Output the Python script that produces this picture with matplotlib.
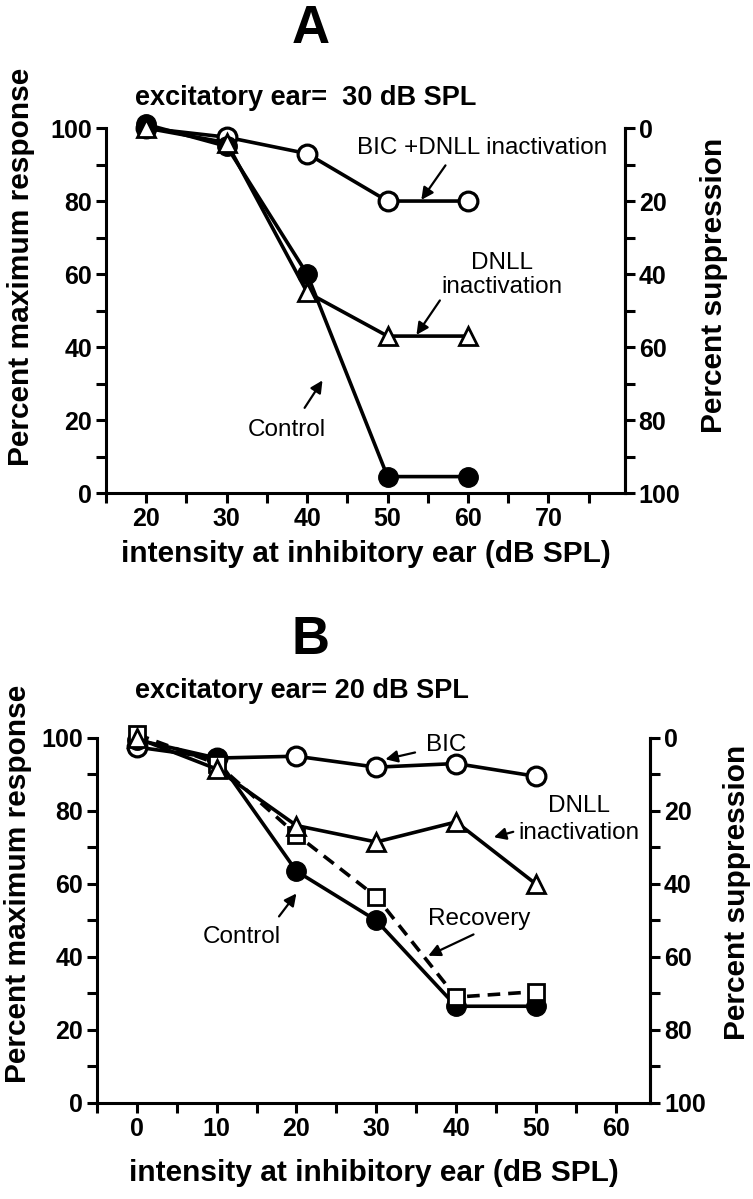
import matplotlib
matplotlib.use('Agg')
import matplotlib.pyplot as plt
from matplotlib.ticker import MultipleLocator, FixedLocator

plt.rcParams['font.family'] = ['Liberation Sans', 'DejaVu Sans']

# Panel A: excitatory ear = 30 dB SPL
a_x = [20, 30, 40, 50, 60]
a_control = [101, 95, 60, 4.5, 4.5]
a_dnll = [100, 96, 55, 43, 43]
a_bic_dnll = [100, 97.5, 93, 80, 80]

# Panel B: excitatory ear = 20 dB SPL
b_x = [0, 10, 20, 30, 40, 50]
b_control = [99.5, 94.5, 63.5, 50, 26.5, 26.5]
b_dnll = [100, 91.5, 76, 71.5, 77, 60]
b_bic = [97.5, 94.5, 95, 92, 93, 89.5]
b_recovery = [101, 93, 73.5, 56.5, 29, 30.5]

LW = 2.6
TICK_FS = 18
LAB_FS = 21.5
ANN_FS = 17.5
fig = plt.figure(figsize=(7.53, 11.99), dpi=100)


def style_axes(ax, xlim, xticks_lab, xtick_all, ylab_xy, xlab_y, rlab_xy):
    ax.set_xlim(*xlim)
    ax.set_ylim(0, 100)
    for s in ['left', 'bottom', 'right']:
        ax.spines[s].set_linewidth(2.2)
    ax.spines['top'].set_visible(False)
    ax.xaxis.set_major_locator(FixedLocator(xticks_lab))
    ax.xaxis.set_minor_locator(FixedLocator(xtick_all))
    ax.yaxis.set_major_locator(MultipleLocator(20))
    ax.yaxis.set_minor_locator(MultipleLocator(10))
    ax.tick_params(which='both', direction='out', width=2.2, length=7,
                   labelsize=TICK_FS, pad=3)
    ax.tick_params(axis='y', which='both', right=False)
    for lab in ax.get_xticklabels() + ax.get_yticklabels():
        lab.set_fontweight('bold')
    ax.set_ylabel('Percent maximum response', fontsize=LAB_FS,
                  fontweight='bold')
    ax.yaxis.set_label_coords(*ylab_xy)
    ax.set_xlabel('intensity at inhibitory ear (dB SPL)', fontsize=LAB_FS,
                  fontweight='bold')
    ax.xaxis.set_label_coords(0.5, xlab_y)
    ax2 = ax.twinx()
    ax2.set_ylim(100, 0)
    ax2.spines['top'].set_visible(False)
    ax2.spines['right'].set_linewidth(2.2)
    ax2.yaxis.set_major_locator(MultipleLocator(20))
    ax2.yaxis.set_minor_locator(MultipleLocator(10))
    ax2.tick_params(which='both', direction='out', width=2.2, length=7,
                    labelsize=TICK_FS, pad=3)
    for lab in ax2.get_yticklabels():
        lab.set_fontweight('bold')
    ax2.set_ylabel('Percent suppression', fontsize=LAB_FS, fontweight='bold')
    ax2.yaxis.set_label_coords(*rlab_xy)
    return ax2


def openc(ax, x, y, ls='-', z=3):
    ax.plot(x, y, ls, color='black', lw=LW, marker='o', ms=13.5,
            mfc='white', mec='black', mew=2.3, clip_on=False, zorder=z)


arr = dict(arrowstyle='-|>', color='black', lw=1.6, mutation_scale=18)

# ---------- Panel A ----------
axA = fig.add_axes([0.1408, 0.5888, 0.689, 0.3044])
openc(axA, a_x, a_bic_dnll, z=3)
axA.plot(a_x, a_control, '-', color='black', lw=LW, marker='o', ms=14,
         mfc='black', mec='black', clip_on=False, zorder=4)
axA.plot(a_x, a_dnll, '-', color='black', lw=LW, marker='^', ms=13.5,
         mfc='white', mec='black', mew=2.0, clip_on=False, zorder=5)
style_axes(axA, (15, 79.5), [20, 30, 40, 50, 60, 70],
           list(range(15, 80, 5)), (-0.136, 0.62), -0.13, (1.145, 0.57))

axA.text(61.7, 94.5, 'BIC +DNLL inactivation', fontsize=ANN_FS,
         ha='center', va='center')
axA.annotate('', xy=(54.0, 79.7), xytext=(57.4, 90.4), arrowprops=arr)
axA.text(64.2, 63.0, 'DNLL', fontsize=ANN_FS, ha='center', va='center')
axA.text(64.2, 56.4, 'inactivation', fontsize=ANN_FS, ha='center',
         va='center')
axA.annotate('', xy=(53.4, 42.7), xytext=(56.7, 53.4), arrowprops=arr)
axA.text(37.5, 17.3, 'Control', fontsize=ANN_FS, ha='center', va='center')
axA.annotate('', xy=(42.1, 31.5), xytext=(39.5, 22.7), arrowprops=arr)

fig.text(0.413, 0.976, 'A', fontsize=38, fontweight='bold', ha='center',
         va='center')
fig.text(0.179, 0.918, 'excitatory ear=  30 dB SPL', fontsize=19.5,
         fontweight='bold', ha='left', va='center')

# ---------- Panel B ----------
axB = fig.add_axes([0.1288, 0.0801, 0.7344, 0.3044])
openc(axB, b_x, b_bic, z=3)
axB.plot(b_x, b_control, '-', color='black', lw=LW, marker='o', ms=14,
         mfc='black', mec='black', clip_on=False, zorder=4)
axB.plot(b_x, b_recovery, '--', color='black', lw=LW, marker='s', ms=11,
         mfc='white', mec='black', mew=2.0, clip_on=False, zorder=5,
         dashes=(3.5, 2.2))
axB.plot(b_x, b_dnll, '-', color='black', lw=LW, marker='^', ms=13.5,
         mfc='white', mec='black', mew=2.0, clip_on=False, zorder=6)
style_axes(axB, (-5, 64.3), [0, 10, 20, 30, 40, 50, 60],
           list(range(-5, 65, 5)), (-0.118, 0.6), -0.153, (1.132, 0.578))

axB.text(38.8, 98.0, 'BIC', fontsize=ANN_FS, ha='center', va='center')
axB.annotate('', xy=(30.8, 94.0), xytext=(35.2, 96.2), arrowprops=arr)
axB.text(55.4, 81.4, 'DNLL', fontsize=ANN_FS, ha='center', va='center')
axB.text(55.4, 74.0, 'inactivation', fontsize=ANN_FS, ha='center',
         va='center')
axB.annotate('', xy=(44.4, 72.6), xytext=(47.5, 74.5), arrowprops=arr)
axB.text(13.2, 45.5, 'Control', fontsize=ANN_FS, ha='center', va='center')
axB.annotate('', xy=(20.2, 58), xytext=(17.6, 50.5), arrowprops=arr)
axB.text(42.9, 50.5, 'Recovery', fontsize=ANN_FS, ha='center', va='center')
axB.annotate('', xy=(36.2, 40), xytext=(42.5, 46.5), arrowprops=arr)

fig.text(0.413, 0.466, 'B', fontsize=38, fontweight='bold', ha='center',
         va='center')
fig.text(0.179, 0.424, 'excitatory ear= 20 dB SPL', fontsize=19.5,
         fontweight='bold', ha='left', va='center')

fig.savefig('out.png', dpi=100)
